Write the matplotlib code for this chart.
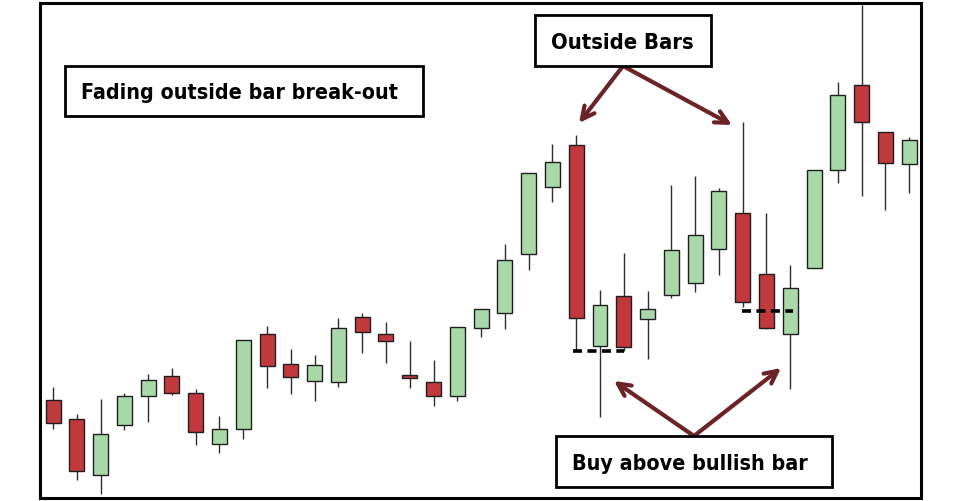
import matplotlib
matplotlib.use("Agg")
import matplotlib.pyplot as plt
from matplotlib.patches import Rectangle
from matplotlib import font_manager
import numpy as np

# candle data (arbitrary price units)
opens  = [100, 81, 25, 75, 104, 124, 107, 56, 71, 166, 136, 119, 118, 183, 166, 125, 118, 104, 172,
          187, 246, 313, 355, 154, 204, 181, 205, 217, 251, 287, 226, 166, 232, 330, 415, 368, 336]
highs  = [113, 86, 101, 107, 126, 132, 111, 84, 160, 174, 151, 145, 182, 187, 178, 159, 140, 173, 191,
          256, 327, 356, 365, 210, 247, 209, 315, 324, 312, 378, 287, 235, 330, 418, 495, 368, 363]
lows   = [71, 20, 6, 70, 78, 105, 55, 47, 61, 112, 106, 99, 113, 147, 137, 112, 94, 99, 163,
          171, 230, 298, 150, 83, 149, 141, 202, 208, 225, 193, 171, 111, 232, 317, 304, 290, 307]
closes = [77, 29, 66, 104, 120, 107, 68, 71, 160, 134, 123, 135, 172, 168, 159, 122, 104, 173, 191,
          240, 327, 338, 182, 195, 153, 191, 250, 265, 309, 198, 172, 212, 330, 405, 378, 337, 360]

# dashed levels under the two outside bars: (level, x start, x end)
levels = [(149, 21.87, 24.01), (189, 28.97, 31.12)]

labels = ["Fading outside bar break-out", "Outside Bars", "Buy above bullish bar"]

W, H = 961, 501
fig = plt.figure(figsize=(W / 100, H / 100), dpi=100)
ax = fig.add_axes([0, 0, 1, 1])
ax.set_xlim(-2.229, 38.18)
ax.set_ylim(-1, 500)
ax.axis("off")

x = np.arange(len(opens))
o = np.array(opens); c = np.array(closes)
up = c >= o
red = "#c1393c"
green = "#a9d9a9"

ax.vlines(x, lows, highs, color="#2e2e2e", lw=1.0, zorder=1)
ax.bar(x, np.abs(c - o), bottom=np.minimum(o, c), width=0.63,
       color=np.where(up, green, red), edgecolor="#1e1e1e", linewidth=1.0, zorder=2)

for lvl, x0, x1 in levels:
    ax.hlines(lvl, x0, x1, colors="black", linestyles=(0, (2.5, 1.5)), lw=2.6, zorder=3)

# frame
fig.add_artist(Rectangle((40 / W, 3 / H), 881 / W, 495 / H, transform=fig.transFigure,
                         fill=False, edgecolor="black", lw=2.2))

names = {f.name for f in font_manager.fontManager.ttflist}
font = [n for n in ["Liberation Sans Narrow", "DejaVu Sans Condensed", "DejaVu Sans"] if n in names]
stretch = "condensed"

texts = []
def box(x0, y0, x1, y1, text, tx0, tx1):
    # pixel box, y measured from top
    fig.add_artist(Rectangle((x0 / W, 1 - y1 / H), (x1 - x0) / W, (y1 - y0) / H,
                             transform=fig.transFigure, facecolor="white",
                             edgecolor="black", lw=2.0, zorder=5))
    t = fig.text((tx0 + tx1) / 2 / W, 1 - (y0 + y1) / 2 / H - 0.004, text, ha="center", va="center",
                 fontsize=23, fontweight="bold", family=font, fontstretch=stretch, zorder=6)
    texts.append((t, tx1 - tx0))

box(65, 66, 423, 116, labels[0], 81, 398)
box(535, 15, 711, 66, labels[1], 551, 694)
box(556, 436, 832, 487, labels[2], 572, 807)

# shrink each label to the width it takes in the picture
fig.canvas.draw()
r = fig.canvas.get_renderer()
for t, target in texts:
    w = t.get_window_extent(r).width
    t.set_fontsize(min(23, 23 * target / w))

arrow_col = "#6b2326"
def arrow(x0, y0, x1, y1):
    ax.annotate("", xy=(x1, H - y1), xycoords="figure pixels",
                xytext=(x0, H - y0), textcoords="figure pixels",
                arrowprops=dict(arrowstyle="->,head_length=0.9,head_width=0.45",
                                color=arrow_col, lw=3.0, shrinkA=0, shrinkB=0))

arrow(623, 66, 579, 123)
arrow(623, 66, 732, 125)
arrow(694, 436, 614, 381)
arrow(694, 436, 781, 368)

fig.savefig("out.png", dpi=100, facecolor="white")
